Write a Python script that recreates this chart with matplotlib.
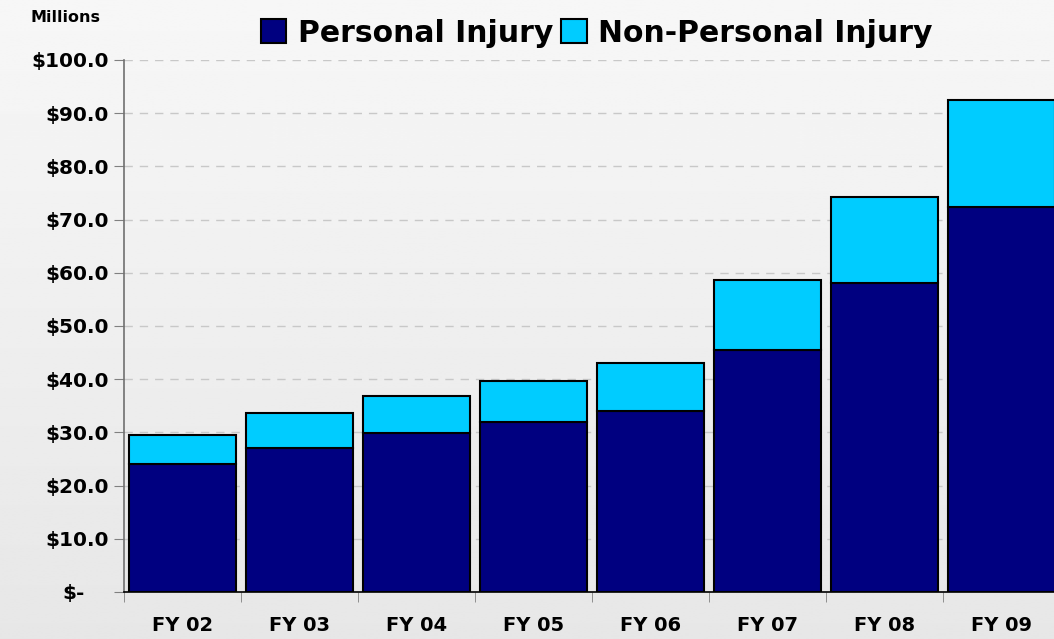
import numpy as np
import matplotlib
matplotlib.use('Agg')
import matplotlib.pyplot as plt
from matplotlib.transforms import ScaledTranslation

# claims paid per fiscal year, in millions
years = ['FY 02', 'FY 03', 'FY 04', 'FY 05', 'FY 06', 'FY 07', 'FY 08', 'FY 09']
personal = [24.1, 27.1, 29.9, 32.0, 34.1, 45.5, 58.1, 72.4]
totals = [29.5, 33.7, 36.8, 39.6, 43.0, 58.6, 74.2, 92.4]
non_personal = [t - p for t, p in zip(totals, personal)]
y_ticks = [0, 10, 20, 30, 40, 50, 60, 70, 80, 90, 100]
y_labels = ['$-'] + ['${:.1f}'.format(v) for v in y_ticks[1:]]

# wide bold face, the original text is stretched sideways
plt.rcParams['font.family'] = ['DejaVu Sans']
plt.rcParams['font.weight'] = 'bold'

fig = plt.figure(figsize=(10.54, 6.39), dpi=100)

# soft vertical gradient behind everything
bg = fig.add_axes([0, 0, 1, 1], zorder=-10)
grad = np.linspace(0.968, 0.905, 256).reshape(-1, 1)
bg.imshow(np.repeat(grad, 2, axis=1), cmap='gray', vmin=0, vmax=1,
          aspect='auto', extent=[0, 1, 0, 1])
bg.axis('off')

# plot area runs a little past the right edge, last bar gets clipped
ax = fig.add_axes([124 / 1054, 47 / 639, 936 / 1054, 532 / 639])
ax.set_facecolor('none')

x = np.arange(len(years))
ax.bar(x, personal, width=0.92, color='#000080', edgecolor='black',
       linewidth=1.5, label='Personal Injury', zorder=3)
ax.bar(x, non_personal, width=0.92, bottom=personal, color='#00CCFF',
       edgecolor='black', linewidth=1.5, label='Non-Personal Injury', zorder=3)

ax.set_xlim(-0.5, len(years) - 0.5)
ax.set_ylim(0, 100)
ax.set_yticks(y_ticks)
ax.set_yticklabels(y_labels, fontsize=14.5, fontweight='bold')
ax.set_xticks(x)
ax.set_xticklabels(years, fontsize=14, fontweight='bold')
ax.set_xticks(np.arange(-0.5, len(years), 1), minor=True)
ax.tick_params(axis='x', which='major', length=0, pad=17)
ax.tick_params(axis='x', which='minor', length=7, direction='out', color='#808080')
ax.tick_params(axis='y', length=7, direction='out', color='#808080', pad=4)

# accounting style zero label sits further left
zero_lbl = ax.get_yticklabels()[0]
zero_lbl.set_transform(zero_lbl.get_transform() + ScaledTranslation(-24 / 100, 0, fig.dpi_scale_trans))

ax.grid(axis='y', color='#C8C8C8', linestyle=(0, (6, 5)), linewidth=1, zorder=0)
for s in ['top', 'right']:
    ax.spines[s].set_visible(False)
ax.spines['left'].set_color('#707070')
ax.spines['left'].set_linewidth(1.2)
ax.spines['bottom'].set_color('black')
ax.spines['bottom'].set_linewidth(1.2)
ax.spines['bottom'].set_zorder(4)

fig.text(30 / 1054, 1 - 18 / 639, 'Millions', fontsize=11.5, fontweight='bold',
         va='center', ha='left')

fig.legend(loc='center', bbox_to_anchor=(597 / 1054, 1 - 33 / 639), ncol=2,
           frameon=False, fontsize=21.5, handlelength=0.85, handleheight=0.85,
           handletextpad=0.4, columnspacing=0.25, borderpad=0)

fig.savefig('out.png', dpi=100)
